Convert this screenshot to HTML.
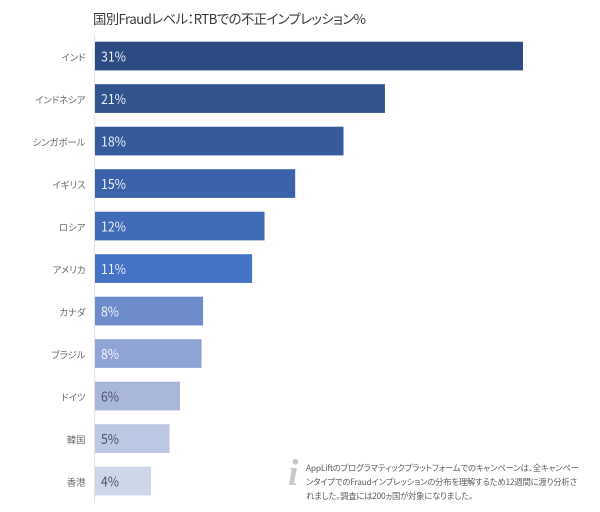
<!DOCTYPE html>
<html lang="ja">
<head>
<meta charset="utf-8">
<style>
html,body{margin:0;padding:0;background:#fff;}
body{width:600px;height:512px;overflow:hidden;position:relative;}
svg{position:absolute;left:0;top:0;}
text{font-family:"Noto Sans CJK JP","Liberation Sans",sans-serif;font-feature-settings:"palt";}
text.pct{font-family:"Noto Sans CJK JP","Liberation Sans",sans-serif;font-size:13.5px;font-feature-settings:normal;}
text.icon{font-family:"Liberation Serif",serif;font-style:italic;font-weight:bold;font-size:37px;}
</style>
</head>
<body>
<svg id="chart" width="600" height="512" viewBox="0 0 600 512" xmlns="http://www.w3.org/2000/svg">
<text x="93" y="24" font-size="13.4" fill="#3a3a3a" textLength="273" lengthAdjust="spacing">国別Fraudレベル：RTBでの不正インプレッション%</text>
<rect x="94" y="35" width="1.2" height="468" fill="#e4e4e6"></rect>
<g id="bars"></g>
<text x="288" y="485" class="icon" fill="#c8c8c8">i</text>
<g font-size="8.4" fill="#5f5f5f">
<text x="306" y="471" textLength="273" lengthAdjust="spacing">AppLiftのプログラマティックプラットフォームでのキャンペーンは、全キャンペー</text>
<text x="306" y="485" textLength="271" lengthAdjust="spacing">ンタイプでのFraudインプレッションの分布を理解するため12週間に渡り分析さ</text>
<text x="306" y="499" textLength="167" lengthAdjust="spacing">れました。調査には200ヵ国が対象になりました。</text>
</g>
</svg>
<script>
const categories = ['インド','インドネシア','シンガポール','イギリス','ロシア','アメリカ','カナダ','ブラジル','ドイツ','韓国','香港'];
const values = [31, 21, 18, 14.5, 12.28, 11.38, 7.83, 7.72, 6.16, 5.4, 4.06];
const valueLabels = ['31%','21%','18%','15%','12%','11%','8%','8%','6%','5%','4%'];
const barColors = ['#2b4b82','#31548f','#365b9c','#3c63a9','#406bb6','#4472c4','#6e8bcb','#8fa3d4','#a9b7da','#bcc7e3','#ced6ea'];
const labelColors = ['#e9eef8','#e9eef8','#e9eef8','#e9eef8','#e9eef8','#e9eef8','#f2f5fb','#f2f5fb','#4a5068','#4a5068','#4a5068'];

const NS = 'http://www.w3.org/2000/svg';
const barsGroup = document.getElementById('bars');
function xScale(v){ return v * 13.806; }
function yScale(i){ return 41.7 + i * 42.5; }

categories.forEach(function(cat, i){
  const y = yScale(i);
  const rect = document.createElementNS(NS, 'rect');
  rect.setAttribute('x', 95);
  rect.setAttribute('y', y);
  rect.setAttribute('width', xScale(values[i]));
  rect.setAttribute('height', 28.7);
  rect.setAttribute('fill', barColors[i]);
  
  
  barsGroup.appendChild(rect);

  const cl = document.createElementNS(NS, 'text');
  cl.setAttribute('x', 85.5);
  cl.setAttribute('y', y + 19.5);
  cl.setAttribute('text-anchor', 'end');
  cl.setAttribute('font-size', '9.4');
  cl.setAttribute('fill', '#6a6a6a');
  cl.textContent = cat;
  
  
  barsGroup.appendChild(cl);

  const vl = document.createElementNS(NS, 'text');
  vl.setAttribute('x', 101);
  vl.setAttribute('y', y + 20);
  vl.setAttribute('class', 'pct');
  vl.setAttribute('fill', labelColors[i]);
  vl.setAttribute('textLength', valueLabels[i].length * 7 + 4);
  vl.setAttribute('lengthAdjust', 'spacingAndGlyphs');
  vl.textContent = valueLabels[i];
  
  
  barsGroup.appendChild(vl);
});
</script>
</body>
</html>
